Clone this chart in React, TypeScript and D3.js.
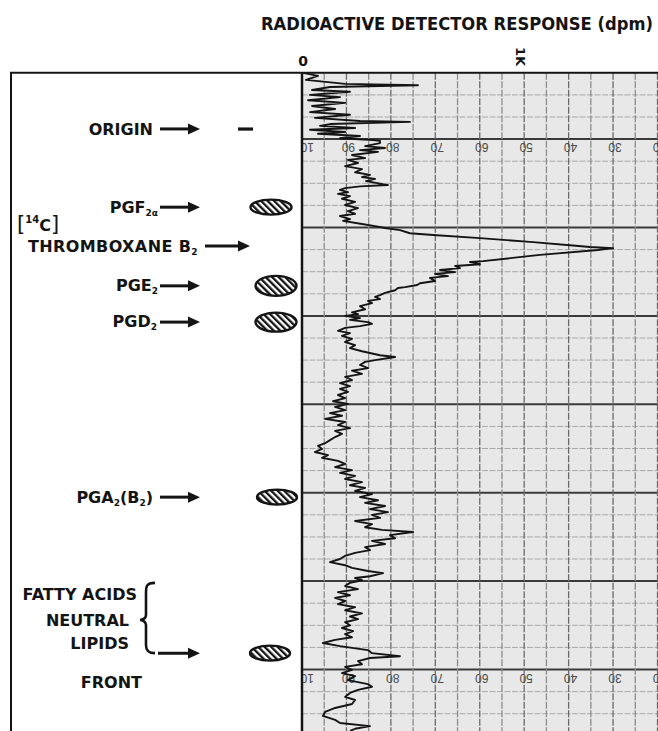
import React from 'react';
import * as d3 from 'd3';

const W = 658;
const H = 731;

// recorder strip: position in mm from top of strip, response in dpm
const originZone: [number, number][] = [
  [0, 5], [0.7, 72], [1.6, 18], [2.5, 194], [2.8, 522], [3.2, 126], [3.9, 45], [4.3, 216],
  [5.0, 36], [5.5, 171], [6.2, 27], [6.8, 194], [7.5, 45], [8.2, 149], [8.9, 36], [9.5, 216],
  [10.2, 58], [10.9, 261], [11.1, 486], [11.6, 126], [12.0, 81], [12.5, 239], [12.9, 36],
  [13.4, 194], [13.8, 72], [14.3, 261], [14.8, 171], [15.2, 320], [15.4, 351],
];
const pgfZone: [number, number][] = [
  [15.9, 351], [16.6, 284], [17.0, 374], [17.5, 261], [17.9, 342], [18.6, 225], [19.3, 284],
  [19.7, 207], [20.4, 252], [21.1, 194], [21.8, 270], [22.5, 239], [23.1, 306], [23.6, 270],
  [24.0, 329], [24.5, 288], [24.9, 333], [25.4, 387], [25.7, 261], [26.1, 194], [26.5, 171],
  [27.0, 207], [27.4, 162], [27.9, 216], [28.5, 180], [29.2, 239], [29.9, 194], [30.6, 252],
  [31.3, 207], [31.9, 239], [32.4, 171], [33.1, 216], [33.5, 185], [34.2, 270], [34.7, 329],
];
const thromboxaneZone: [number, number][] = [
  [35.1, 374], [35.6, 441], [36.3, 486], [36.7, 590], [37.4, 801], [38.3, 1040], [39.0, 1206],
  [39.4, 1296], [39.7, 1400], [39.9, 1364], [40.1, 1332], [41.2, 1071], [42.6, 815], [42.8, 756],
  [43.3, 801], [43.7, 689], [44.2, 711], [44.6, 621], [45.1, 689], [45.5, 599], [46.0, 657],
  [46.4, 576], [47.1, 599], [47.6, 531], [48.0, 518], [48.5, 464], [48.7, 432], [49.2, 419],
  [49.8, 374], [50.3, 351], [50.7, 329], [51.2, 351], [51.6, 297], [52.1, 315], [52.8, 261],
  [53.5, 284], [54.2, 225], [54.6, 252], [55.0, 194], [55.5, 261], [55.9, 216], [56.4, 297],
  [56.8, 315], [57.3, 261], [57.7, 194],
];
const midZone: [number, number][] = [
  [58.4, 162], [58.9, 216], [59.5, 180], [60.2, 225], [60.9, 194], [61.6, 239], [62.3, 216],
  [63.0, 270], [63.9, 351], [64.3, 419], [65.0, 329], [65.4, 284], [66.1, 261], [66.8, 297],
  [67.4, 225], [68.1, 270], [68.8, 194], [69.5, 225], [70.2, 171], [70.9, 216], [71.5, 171],
  [72.2, 207], [72.9, 162], [73.6, 194], [74.3, 140], [74.9, 207], [75.6, 149], [76.3, 194],
  [77.0, 126], [77.6, 180], [78.3, 104], [79.0, 194], [79.7, 162], [80.4, 216], [81.0, 149],
  [81.7, 180], [82.4, 149], [83.1, 126], [83.8, 104], [84.4, 72], [85.1, 90], [85.8, 58],
  [86.5, 117], [87.1, 90], [87.8, 162], [88.5, 194], [89.2, 149], [89.9, 225], [90.5, 171],
  [91.2, 239], [91.9, 194], [92.6, 270], [93.3, 216], [93.9, 284], [94.6, 239], [95.3, 315],
  [96.0, 261], [96.7, 342], [97.3, 284], [98.0, 374], [98.7, 306], [99.4, 387], [100.0, 315],
  [100.7, 351], [101.4, 239], [102.1, 315], [102.8, 284], [103.4, 360], [103.9, 500],
  [104.6, 396], [105.3, 419], [105.9, 315], [106.6, 374], [107.3, 284], [108.0, 306],
];
const frontZone: [number, number][] = [
  [108.6, 239], [109.3, 194], [110.0, 171], [110.7, 126], [111.4, 194], [112.0, 225],
  [112.7, 297], [113.2, 365], [113.9, 306], [114.3, 239], [114.8, 270], [115.4, 216],
  [116.1, 194], [116.8, 252], [117.5, 162], [118.2, 216], [118.8, 149], [119.5, 194],
  [120.2, 162], [120.9, 239], [121.6, 194], [122.3, 270], [123.0, 216], [123.6, 252],
  [124.3, 194], [125.0, 216], [125.6, 180], [126.3, 230], [127.0, 194], [127.7, 225],
  [128.3, 149], [129.0, 94], [129.7, 171], [130.1, 225], [130.6, 297], [131.3, 315],
  [132.0, 441], [132.4, 306], [133.1, 252], [133.8, 270], [134.4, 194], [135.1, 225],
  [135.8, 180], [136.5, 239], [137.4, 207], [138.3, 297], [138.9, 315], [139.6, 252],
  [140.3, 216], [141.2, 194], [141.9, 239], [142.8, 225], [143.7, 149], [144.6, 104],
  [145.5, 94], [146.4, 149], [147.1, 171], [147.8, 306], [148.4, 239], [148.9, 216],
];

// axis above the strip
const responseTicks = [0, 1000];
const responseTickLabels = ['0', '1K'];

// printed chart-paper scale (strip is mounted upside down)
const paperValues = [0, 200, 400, 600, 800, 1000, 1200, 1400, 1600];
const paperLabels = ['100', '90', '80', '70', '60', '50', '40', '30', '20'];
const paperLabelRows = [15, 135];

// standards run alongside the sample, position in mm
const standardNames = ['ORIGIN', 'PGF2a', 'TXB2', 'PGE2', 'PGD2', 'PGA2'];
const standardPos = [12.7, 30.4, 39.2, 48.2, 56.4, 96.0];
const lipidLines = ['FATTY ACIDS', 'NEUTRAL', 'LIPIDS'];
const lipidPos = [117.9, 123.8, 129.0];
const lipidSpotPos = 131.3;
const frontPos = 137.8;

const FONT = '"DejaVu Sans", sans-serif';
const INK = '#141414';

function Arrow({ x0, x1, yy }: { x0: number; x1: number; yy: number }) {
  return (
    <g>
      <line x1={x0} x2={x1 - 9} y1={yy} y2={yy} stroke={INK} strokeWidth={3} />
      <path d={`M${x1},${yy} L${x1 - 12},${yy - 5.5} L${x1 - 12},${yy + 5.5} Z`} fill={INK} />
    </g>
  );
}

function Spot({ cx, cy, rx, ry }: { cx: number; cy: number; rx: number; ry: number }) {
  return <ellipse cx={cx} cy={cy} rx={rx} ry={ry} fill="url(#hatch)" stroke={INK} strokeWidth={2.4} />;
}

export default function App() {
  const x = d3.scaleLinear().domain([0, 1600]).range([302, 657.5]);
  const y = d3.scaleLinear().domain([0, 149]).range([72.8, 731.4]);

  const trace = [...originZone, ...pgfZone, ...thromboxaneZone, ...midZone, ...frontZone];
  const line = d3.line<[number, number]>().x(d => x(d[1])).y(d => y(d[0]));

  const vLines = d3.range(0, 1601, 100);
  const hLines = d3.range(0, 150, 5);

  const labelStyle = { fontFamily: FONT, fontWeight: 700, fontSize: 16, fill: INK } as const;
  const subStyle = { fontSize: 9 } as const;
  const textRight = 156;

  const spots: Record<string, { cx: number; rx: number; ry: number }> = {
    PGF2a: { cx: 271, rx: 20.5, ry: 7.5 },
    PGE2: { cx: 276, rx: 20.5, ry: 10 },
    PGD2: { cx: 276, rx: 20.5, ry: 9.5 },
    PGA2: { cx: 277, rx: 20, ry: 7.5 },
  };

  const renderLabel = (name: string, yy: number) => {
    switch (name) {
      case 'ORIGIN':
        return <text x={textRight - 3} y={yy + 6} textAnchor="end" style={labelStyle}>ORIGIN</text>;
      case 'PGF2a':
        return (
          <text x={textRight + 2} y={yy + 6} textAnchor="end" style={labelStyle}>
            PGF<tspan style={subStyle} dy={3}>2α</tspan>
          </text>
        );
      case 'TXB2':
        return (
          <text x={198} y={yy + 6} textAnchor="end" style={labelStyle} letterSpacing={0.4}>
            THROMBOXANE B<tspan style={subStyle} dy={3}>2</tspan>
          </text>
        );
      case 'PGE2':
        return (
          <text x={textRight + 2} y={yy + 5} textAnchor="end" style={labelStyle}>
            PGE<tspan style={subStyle} dy={3}>2</tspan>
          </text>
        );
      case 'PGD2':
        return (
          <text x={textRight + 1} y={yy + 5} textAnchor="end" style={labelStyle}>
            PGD<tspan style={subStyle} dy={3}>2</tspan>
          </text>
        );
      case 'PGA2':
        return (
          <text x={textRight - 3} y={yy + 6} textAnchor="end" style={labelStyle}>
            PGA<tspan style={subStyle} dy={3}>2</tspan>
            <tspan dy={-3}>(B</tspan>
            <tspan style={subStyle} dy={3}>2</tspan>
            <tspan dy={-3}>)</tspan>
          </text>
        );
      default:
        return null;
    }
  };

  const bTop = y(115.4);
  const bMid = y(123.8);
  const bBot = y(lipidSpotPos);

  return (
    <svg
      width={W}
      height={H}
      style={{ position: 'absolute', left: 0, top: 0, background: '#fff' }}
    >
      <defs>
        <pattern id="hatch" patternUnits="userSpaceOnUse" width={4.6} height={4.6} patternTransform="rotate(-45)">
          <rect width={4.6} height={4.6} fill="#fff" />
          <rect width={2.3} height={4.6} fill={INK} />
        </pattern>
        <clipPath id="strip">
          <rect x={x(0)} y={y(0)} width={W - x(0)} height={H - y(0)} />
        </clipPath>
      </defs>

      {/* title */}
      <text
        x={261}
        y={30}
        textLength={392}
        lengthAdjust="spacingAndGlyphs"
        style={{ fontFamily: FONT, fontWeight: 700, fontSize: 17.5, fill: INK }}
      >
        RADIOACTIVE DETECTOR RESPONSE (dpm)
      </text>

      {/* response axis labels */}
      <text x={x(responseTicks[0]) + 1} y={66} textAnchor="middle" style={{ fontFamily: FONT, fontWeight: 700, fontSize: 14, fill: INK }}>
        {responseTickLabels[0]}
      </text>
      <text
        transform={`translate(${x(responseTicks[1]) - 8},${47}) rotate(90)`}
        style={{ fontFamily: FONT, fontWeight: 700, fontSize: 13, fill: INK }}
      >
        {responseTickLabels[1]}
      </text>

      {/* strip */}
      <g clipPath="url(#strip)">
        <rect x={x(0)} y={y(0)} width={W - x(0)} height={H - y(0)} fill="#e8e8e8" />
        {hLines.map(v => {
          const major = (v - 15) % 20 === 0;
          return (
            <line
              key={'h' + v}
              x1={x(0)}
              x2={W}
              y1={y(v)}
              y2={y(v)}
              stroke={major ? '#3a3a3a' : '#a8a8a8'}
              strokeWidth={major ? 2 : 1}
              strokeDasharray={major ? undefined : '6,1.5'}
            />
          );
        })}
        {vLines.map(v => (
          <line
            key={'v' + v}
            x1={x(v)}
            x2={x(v)}
            y1={y(0)}
            y2={H}
            stroke={v % 200 === 0 ? '#6a6a6a' : '#8c8c8c'}
            strokeWidth={1.3}
            strokeDasharray="7,1.5"
          />
        ))}
        {paperLabelRows.map(r =>
          paperValues.map((v, i) => (
            <text
              key={r + '-' + v}
              transform={`translate(${x(v) + 2},${y(r) + 4}) rotate(180)`}
              textAnchor="middle"
              style={{ fontFamily: '"Liberation Sans", sans-serif', fontSize: 12, fill: '#4a4a4a' }}
            >
              {paperLabels[i]}
            </text>
          ))
        )}
        <path d={line(trace) || ''} fill="none" stroke={INK} strokeWidth={1.9} strokeLinejoin="round" />
      </g>

      {/* frame */}
      <line x1={10} x2={W} y1={y(0)} y2={y(0)} stroke={INK} strokeWidth={2} />
      <line x1={11} x2={11} y1={y(0)} y2={H} stroke={INK} strokeWidth={2} />
      <line x1={x(0)} x2={x(0)} y1={y(0)} y2={H} stroke={INK} strokeWidth={2.5} />

      {/* standards */}
      {standardNames.map((n, i) => {
        const yy = y(standardPos[i]);
        const sp = spots[n];
        return (
          <g key={n}>
            {renderLabel(n, yy)}
            {n === 'TXB2' ? <Arrow x0={205} x1={250} yy={yy} /> : <Arrow x0={160} x1={200} yy={yy} />}
            {n === 'ORIGIN' && <rect x={238} y={yy - 1.5} width={15} height={3.2} fill={INK} />}
            {sp && <Spot cx={sp.cx} cy={yy} rx={sp.rx} ry={sp.ry} />}
          </g>
        );
      })}

      {/* [14C] */}
      <text x={17} y={y(34.7) + 5} style={{ fontFamily: FONT, fontSize: 21, fill: INK }}>
        [
        <tspan style={{ fontSize: 10, fontWeight: 700 }} dy={-8}>14</tspan>
        <tspan style={{ fontSize: 16, fontWeight: 700 }} dy={8}>C</tspan>
        <tspan>]</tspan>
      </text>

      {/* lipids */}
      {lipidLines.map((t, i) => (
        <text key={t} x={i === 0 ? 137 : 129} y={y(lipidPos[i]) + 6} textAnchor="end" style={labelStyle}>
          {t}
        </text>
      ))}
      <path
        d={`M155,${bTop} C146,${bTop} 146,${bTop + 4} 146,${bTop + 10} L146,${bMid - 5} C146,${bMid - 2} 143,${bMid} 140,${bMid}
            C143,${bMid} 146,${bMid + 2} 146,${bMid + 5} L146,${bBot - 8} C146,${bBot - 2} 149,${bBot} 155,${bBot}`}
        fill="none"
        stroke={INK}
        strokeWidth={2.6}
      />
      <Arrow x0={158} x1={200} yy={bBot} />
      <Spot cx={270} cy={bBot} rx={20} ry={7.5} />

      <text x={142} y={y(frontPos) + 6} textAnchor="end" style={labelStyle}>FRONT</text>
    </svg>
  );
}
